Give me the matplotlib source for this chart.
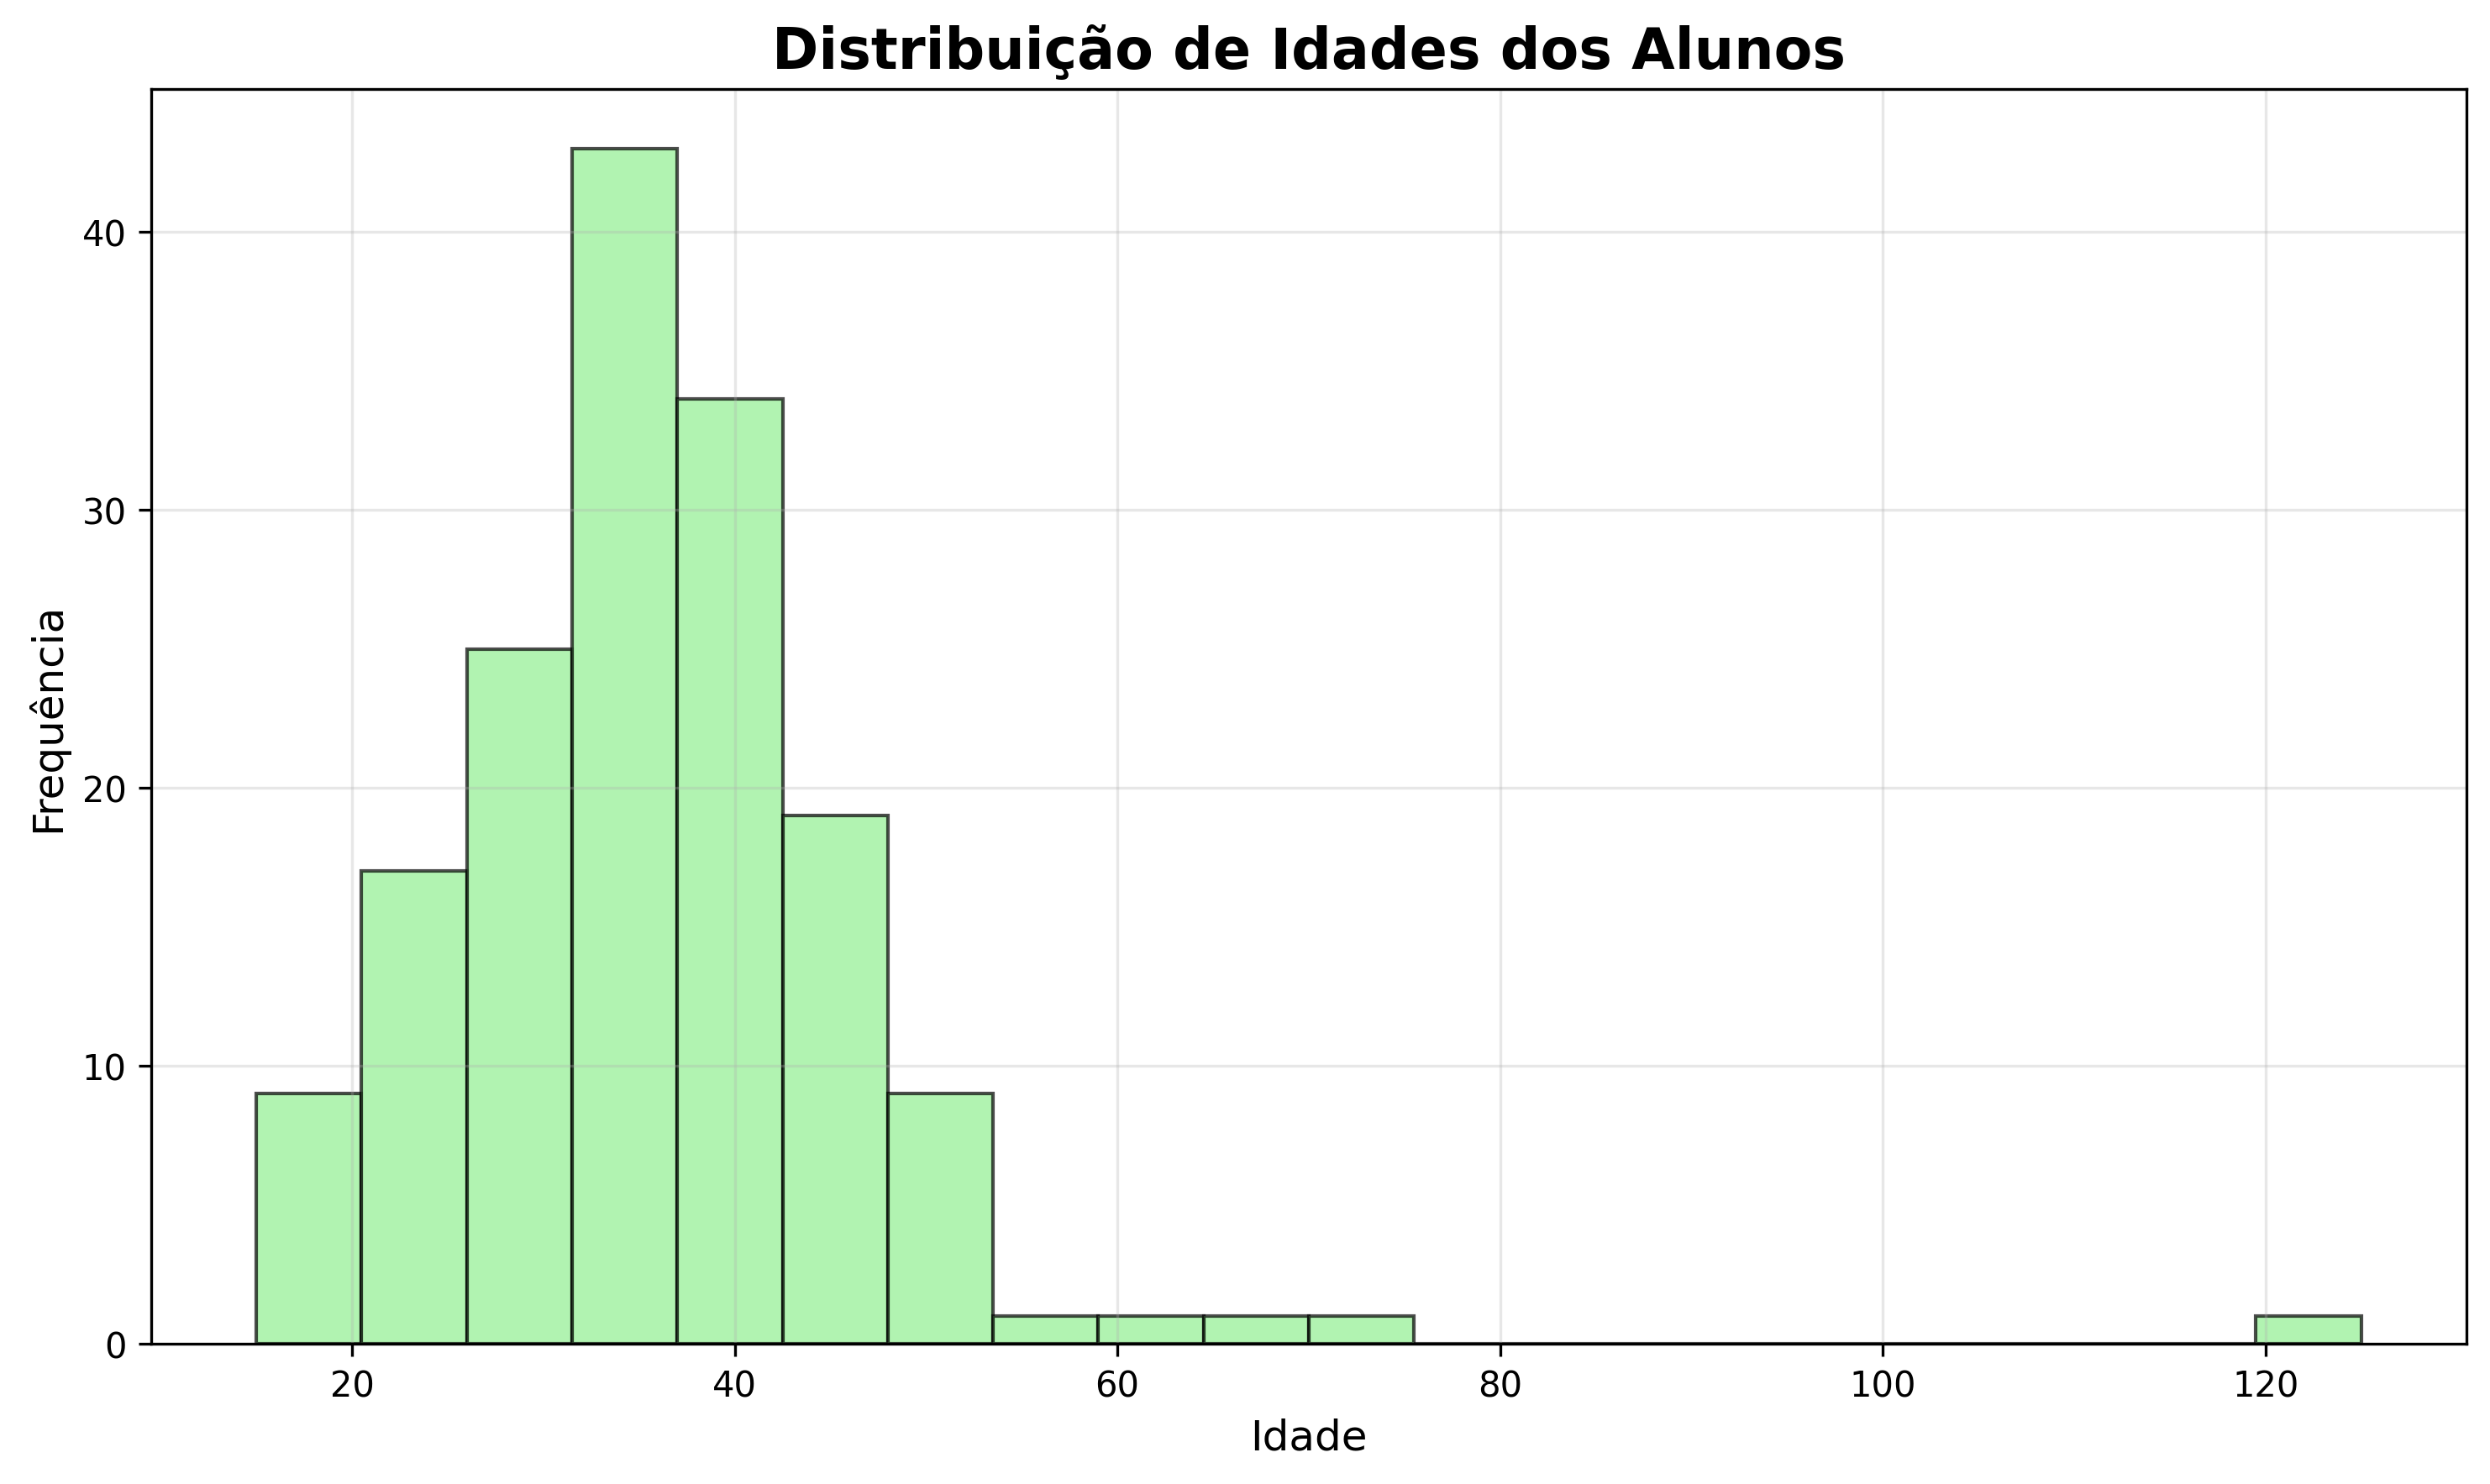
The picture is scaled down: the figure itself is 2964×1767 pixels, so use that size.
import matplotlib
matplotlib.use("Agg")
import matplotlib.pyplot as plt
import numpy as np

# histogram data (20 bins between 15 and 125)
bin_edges = np.linspace(15, 125, 21)
counts = [9, 17, 25, 43, 34, 19, 9, 1, 1, 1, 1, 0, 0, 0, 0, 0, 0, 0, 0, 1]

centers = (bin_edges[:-1] + bin_edges[1:]) / 2

fig, ax = plt.subplots(figsize=(9.88, 5.893), dpi=300)
ax.hist(centers, bins=bin_edges, weights=counts, color="lightgreen",
        edgecolor="black", alpha=0.7)

ax.set_title("Distribuição de Idades dos Alunos", fontsize=16, fontweight="bold")
ax.set_xlabel("Idade", fontsize=12)
ax.set_ylabel("Frequência", fontsize=12)
ax.grid(True, alpha=0.3)

plt.subplots_adjust(left=0.0607, right=0.9905, top=0.9395, bottom=0.0945)
plt.savefig("out.png", dpi=300)
